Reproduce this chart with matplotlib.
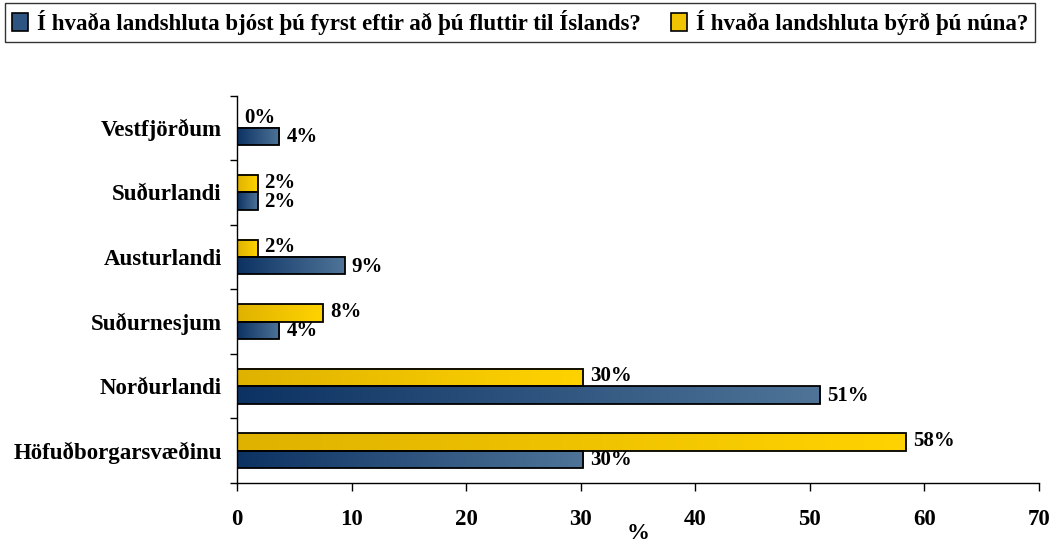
import matplotlib
matplotlib.use("Agg")
import matplotlib.pyplot as plt
import numpy as np
from matplotlib.colors import LinearSegmentedColormap
from matplotlib.patches import Patch

plt.rcParams['font.family'] = ['Liberation Serif', 'DejaVu Serif']
plt.rcParams['font.weight'] = 'bold'

categories = ["Höfuðborgarsvæðinu", "Norðurlandi", "Suðurnesjum", "Austurlandi", "Suðurlandi", "Vestfjörðum"]
first_lived = [30.2, 50.9, 3.7, 9.4, 1.8, 3.7]
live_now = [58.4, 30.2, 7.5, 1.8, 1.8, 0.0]
first_labels = ["30%", "51%", "4%", "9%", "2%", "4%"]
now_labels = ["58%", "30%", "8%", "2%", "2%", "0%"]
series_names = ["Í hvaða landshluta bjóst þú fyrst eftir að þú fluttir til Íslands?",
                "Í hvaða landshluta býrð þú núna?"]
xticks = [0, 10, 20, 30, 40, 50, 60, 70]

FS = 16.5

blue_cmap = LinearSegmentedColormap.from_list("b", ["#0c3263", "#4f7498"])
yel_cmap = LinearSegmentedColormap.from_list("y", ["#dfb200", "#ffd300"])

fig = plt.figure(figsize=(10.52, 5.44), dpi=100)
ax = fig.add_axes([237/1052, 1-483/544, (1039-237)/1052, (483-95.5)/544])

pos = np.arange(len(categories))
h = 0.27
grad = np.linspace(0, 1, 256).reshape(1, -1)

def draw(vals, offset, cmap, labels, nudge):
    bars = ax.barh(pos + offset, vals, height=h, facecolor='none',
                   edgecolor='black', linewidth=1.3, zorder=3)
    for b, lab in zip(bars, labels):
        x0, y0, w, hh = b.get_x(), b.get_y(), b.get_width(), b.get_height()
        if w > 0:
            ax.imshow(grad, extent=[x0, x0 + w, y0, y0 + hh], aspect='auto',
                      cmap=cmap, zorder=2, interpolation='bilinear')
        ax.text(x0 + w + 0.6, y0 + hh/2 + nudge, lab, va='center', ha='left',
                fontsize=15, fontweight='bold', zorder=4)
    return bars

draw(first_lived, -h/2, blue_cmap, first_labels, -0.015)
draw(live_now, h/2, yel_cmap, now_labels, 0.015)

ax.set_xlim(0, 70)
ax.set_ylim(-0.5, len(categories) - 0.5)
ax.set_xticks(xticks)
ax.set_xticklabels([str(t) for t in xticks], fontsize=FS, fontweight='bold')
ax.set_yticks(pos)
ax.set_yticklabels(categories, fontsize=FS, fontweight='bold')
ax.set_yticks(np.arange(-0.5, len(categories), 1.0), minor=True)
ax.tick_params(axis='y', which='major', length=0, pad=11)
ax.tick_params(axis='y', which='minor', length=5, width=1)
ax.tick_params(axis='x', which='major', length=6, width=1, pad=13)
for s in ['top', 'right']:
    ax.spines[s].set_visible(False)
for s in ['left', 'bottom']:
    ax.spines[s].set_linewidth(1)
ax.set_xlabel("%", fontsize=FS, fontweight='bold', labelpad=-5)

handles = [Patch(facecolor="#2e5582", edgecolor='black', linewidth=1.2),
           Patch(facecolor="#f0c400", edgecolor='black', linewidth=1.2)]
leg = fig.legend(handles, series_names, loc='upper left', ncol=2,
                 bbox_to_anchor=(5/1052, 1-3/544), frameon=True, fancybox=False,
                 edgecolor='black', prop={'size': FS, 'weight': 'bold'},
                 handlelength=0.7, handleheight=0.8, handletextpad=0.4,
                 columnspacing=1.3, borderpad=0.3, borderaxespad=0)
leg.get_frame().set_linewidth(1)

fig.savefig("out.png", dpi=100)
